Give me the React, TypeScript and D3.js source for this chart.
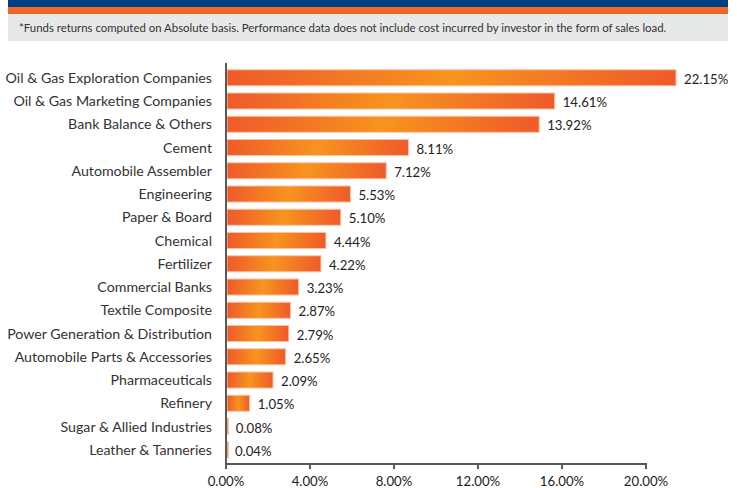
import React from "react";
import * as d3 from "d3";

const categories = [
  "Oil & Gas Exploration Companies",
  "Oil & Gas Marketing Companies",
  "Bank Balance & Others",
  "Cement",
  "Automobile Assembler",
  "Engineering",
  "Paper & Board",
  "Chemical",
  "Fertilizer",
  "Commercial Banks",
  "Textile Composite",
  "Power Generation & Distribution",
  "Automobile Parts & Accessories",
  "Pharmaceuticals",
  "Refinery",
  "Sugar & Allied Industries",
  "Leather & Tanneries",
];
const values = [22.15, 14.61, 13.92, 8.11, 7.12, 5.53, 5.1, 4.44, 4.22, 3.23, 2.87, 2.79, 2.65, 2.09, 1.05, 0.08, 0.04];
const ticks = [0, 4, 8, 12, 16, 20];
const note =
  "*Funds returns computed on Absolute basis. Performance data does not include cost incurred by investor in the form of sales load.";

const W = 737;
const H = 488;
const FONT = "Lato, 'Open Sans', sans-serif";

export default function App() {
  const x0 = 226;
  const barScale = d3.scaleLinear().domain([0, 20]).range([x0, 676]).clamp(true);
  const axisScale = d3.scaleLinear().domain([0, 20]).range([x0, 646]);
  const y = d3
    .scaleBand<string>()
    .domain(categories)
    .range([66.15, 461.4])
    .paddingInner(0.31)
    .paddingOuter(0.155);
  const axisY = 464;

  return (
    <svg
      width={W}
      height={H}
      style={{ position: "absolute", left: 0, top: 0, background: "#fff" }}
      fontFamily={FONT}
    >
      <defs>
        <linearGradient id="barGrad" x1="0" x2="1" y1="0" y2="0">
          <stop offset="0%" stopColor="#EF5A2A" />
          <stop offset="50%" stopColor="#F7941E" />
          <stop offset="100%" stopColor="#EF5A2A" />
        </linearGradient>
      </defs>
      <rect x={8} y={0} width={720} height={7} fill="#003E83" />
      <rect x={8} y={7} width={720} height={7} fill="#F26522" />
      <rect x={8} y={14} width={720} height={27} fill="#E7E8E8" />
      <text x={19} y={32} fontSize={11.4} fill="#333">
        {note}
      </text>

      {categories.map((c, i) => {
        const yy = y(c)!;
        const bw = y.bandwidth();
        const xe = barScale(values[i]);
        return (
          <g key={c}>
            <rect
              x={x0 + 1}
              y={yy}
              width={Math.max(xe - x0 - 1, 1.5)}
              height={bw}
              fill="url(#barGrad)"
              stroke="#FAC3A6"
              strokeWidth={1}
            />
            <text x={212} y={yy + bw / 2 + 5} textAnchor="end" fontSize={14.2} fill="#333">
              {c}
            </text>
            <text x={xe + 8} y={yy + bw / 2 + 6} fontSize={13.2} fill="#222">
              {values[i].toFixed(2) + "%"}
            </text>
          </g>
        );
      })}

      <line x1={x0} x2={x0} y1={63} y2={axisY} stroke="#595959" strokeWidth={2} />
      <line x1={x0 - 1} x2={axisScale(20) + 1} y1={axisY} y2={axisY} stroke="#595959" strokeWidth={2} />
      {ticks.map((t) => (
        <g key={t}>
          <line x1={axisScale(t)} x2={axisScale(t)} y1={axisY} y2={axisY + 5} stroke="#595959" strokeWidth={2} />
          <text x={axisScale(t)} y={486} textAnchor="middle" fontSize={13.2} fill="#222">
            {t.toFixed(2) + "%"}
          </text>
        </g>
      ))}
    </svg>
  );
}
